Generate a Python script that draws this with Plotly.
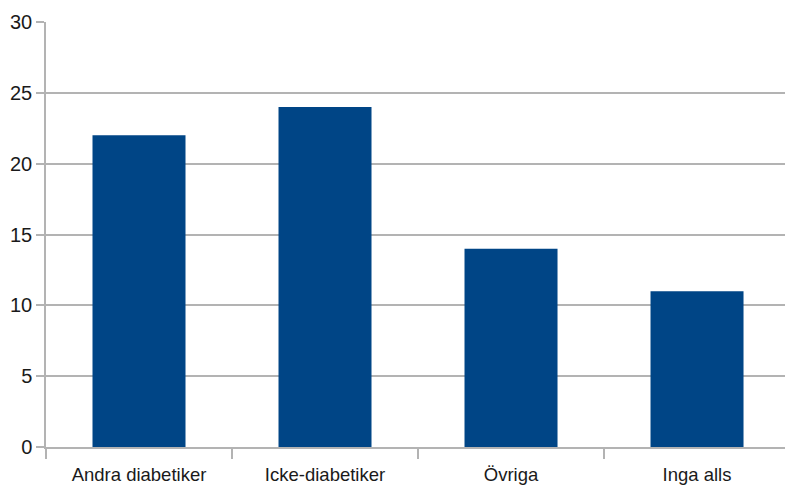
import plotly.graph_objects as go

categories = ["Andra diabetiker", "Icke-diabetiker", "Övriga", "Inga alls"]
values = [22, 24, 14, 11]
y_ticks = [0, 5, 10, 15, 20, 25, 30]

grid = "#b3b3b3"
xfont = dict(family="Liberation Sans, Arial, sans-serif", size=18.5, color="#1a1a1a")
yfont = dict(family="Liberation Sans, Arial, sans-serif", size=20, color="#1a1a1a")

fig = go.Figure(go.Bar(x=categories, y=values, marker=dict(color="#004586", line=dict(width=0))))
fig.update_layout(
    width=785, height=488,
    margin=dict(l=46, r=0, t=22, b=41),
    paper_bgcolor="white", plot_bgcolor="white",
    bargap=0.5, showlegend=False, font=xfont,
)
fig.update_xaxes(
    type="category", range=[-0.5, 3.473],
    showline=True, linecolor=grid, linewidth=1.5,
    ticks="outside", tickson="boundaries", ticklen=10, tickcolor=grid, tickwidth=1.5,
    showgrid=False, tickfont=xfont, ticklabelstandoff=10,
)
fig.update_yaxes(
    range=[0, 30], tickvals=y_ticks,
    showline=True, linecolor=grid, linewidth=1.5,
    ticks="outside", ticklen=8, tickcolor=grid, tickwidth=1.5,
    showgrid=True, gridcolor=grid, gridwidth=1.5,
    zeroline=False, tickfont=yfont,
)
fig.write_html("out.html")
